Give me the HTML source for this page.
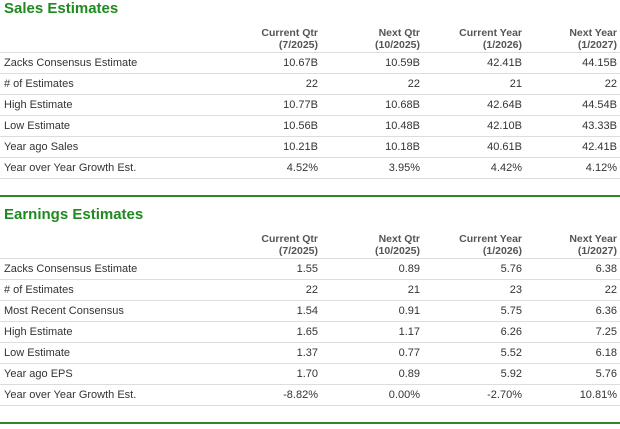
<!DOCTYPE html>
<html><head><meta charset="utf-8"><style>
body{margin:0;width:620px;height:429px;background:#fff;font-family:"Liberation Sans",Arial,sans-serif;position:relative;overflow:hidden;color:#333}
.title{position:absolute;left:4px;font-weight:bold;font-size:15px;color:#1f8a1f}
table{position:absolute;left:0;width:620px;border-collapse:collapse;table-layout:fixed;font-size:11px}
th{font-weight:bold;color:#555;text-align:right;font-size:10.5px;line-height:12px;height:33px;vertical-align:bottom;padding:0 3px 1px 0;border-bottom:1px solid #ddd}
td{height:20px;border-bottom:1px solid #ddd;text-align:right;padding:0 3px 0 0;color:#333;white-space:nowrap}
td:first-child{text-align:left;padding-left:4px}
.g{position:absolute;left:0;width:620px;height:2px;background:#2a8a2a}
col.l{width:219px}col.n{width:102px}col.e{width:95px}
</style></head><body>
<div class="title" style="top:0px">Sales Estimates</div>
<table style="top:18px">
<colgroup><col class="l"><col class="n"><col class="n"><col class="n"><col class="e"></colgroup>
<tr><th></th><th>Current Qtr<br>(7/2025)</th><th>Next Qtr<br>(10/2025)</th><th>Current Year<br>(1/2026)</th><th>Next Year<br>(1/2027)</th></tr>
<tr><td>Zacks Consensus Estimate</td><td>10.67B</td><td>10.59B</td><td>42.41B</td><td>44.15B</td></tr>
<tr><td># of Estimates</td><td>22</td><td>22</td><td>21</td><td>22</td></tr>
<tr><td>High Estimate</td><td>10.77B</td><td>10.68B</td><td>42.64B</td><td>44.54B</td></tr>
<tr><td>Low Estimate</td><td>10.56B</td><td>10.48B</td><td>42.10B</td><td>43.33B</td></tr>
<tr><td>Year ago Sales</td><td>10.21B</td><td>10.18B</td><td>40.61B</td><td>42.41B</td></tr>
<tr><td>Year over Year Growth Est.</td><td>4.52%</td><td>3.95%</td><td>4.42%</td><td>4.12%</td></tr>
</table>
<div class="g" style="top:195px"></div>
<div class="title" style="top:206px">Earnings Estimates</div>
<table style="top:224px">
<colgroup><col class="l"><col class="n"><col class="n"><col class="n"><col class="e"></colgroup>
<tr><th></th><th>Current Qtr<br>(7/2025)</th><th>Next Qtr<br>(10/2025)</th><th>Current Year<br>(1/2026)</th><th>Next Year<br>(1/2027)</th></tr>
<tr><td>Zacks Consensus Estimate</td><td>1.55</td><td>0.89</td><td>5.76</td><td>6.38</td></tr>
<tr><td># of Estimates</td><td>22</td><td>21</td><td>23</td><td>22</td></tr>
<tr><td>Most Recent Consensus</td><td>1.54</td><td>0.91</td><td>5.75</td><td>6.36</td></tr>
<tr><td>High Estimate</td><td>1.65</td><td>1.17</td><td>6.26</td><td>7.25</td></tr>
<tr><td>Low Estimate</td><td>1.37</td><td>0.77</td><td>5.52</td><td>6.18</td></tr>
<tr><td>Year ago EPS</td><td>1.70</td><td>0.89</td><td>5.92</td><td>5.76</td></tr>
<tr><td>Year over Year Growth Est.</td><td>-8.82%</td><td>0.00%</td><td>-2.70%</td><td>10.81%</td></tr>
</table>
<div class="g" style="top:422px"></div>
</body></html>
